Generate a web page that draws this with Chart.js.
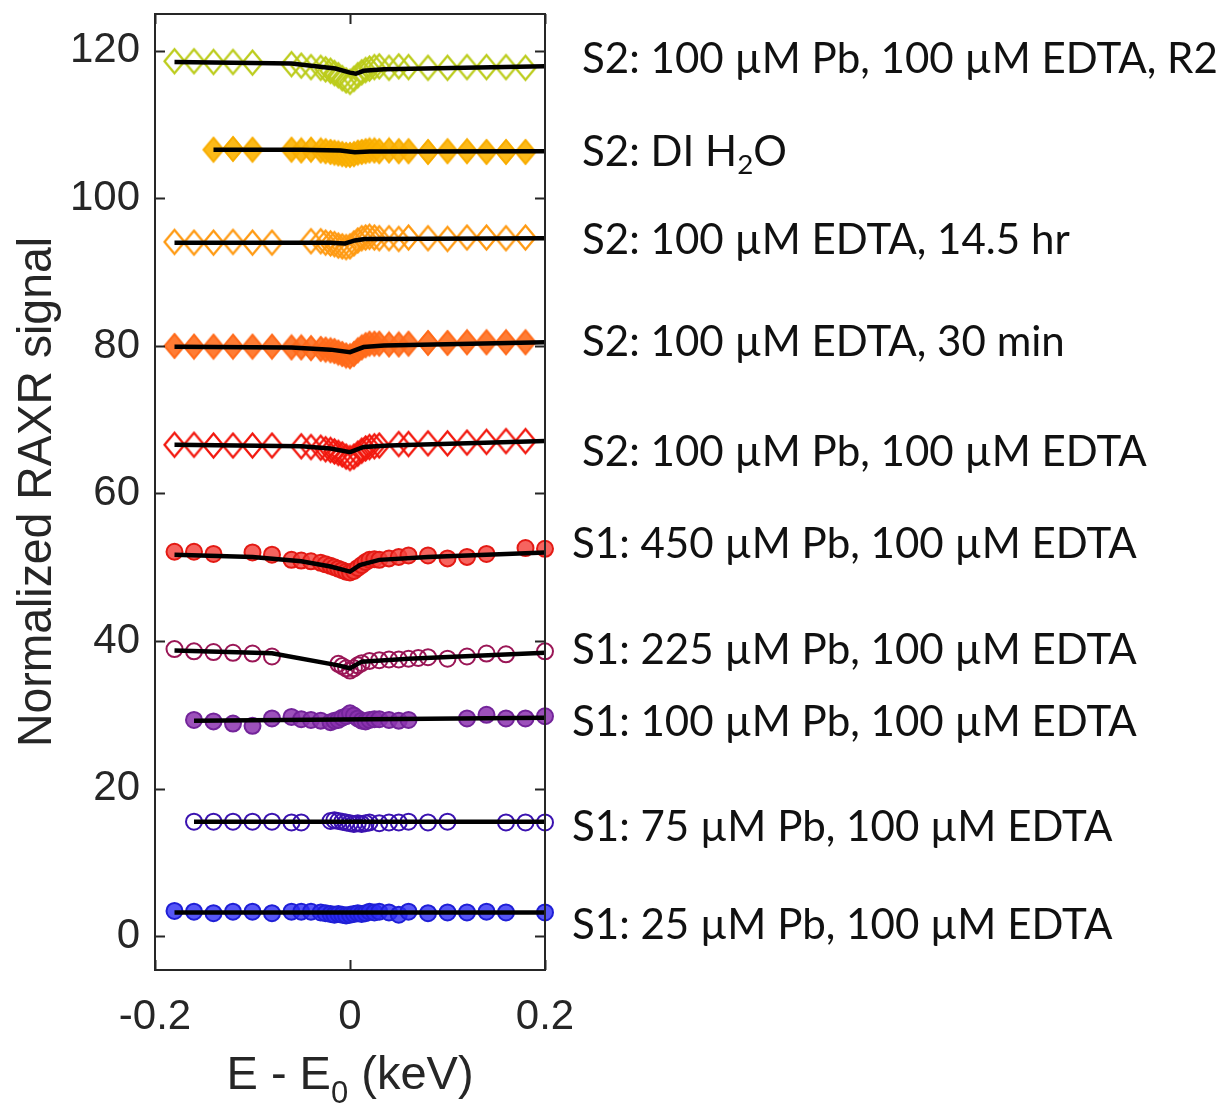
<!DOCTYPE html>
<html>
<head>
<meta charset="utf-8">
<script src="https://cdn.jsdelivr.net/npm/chart.js@4.4.1/dist/chart.umd.min.js"></script>
<style>
  html, body { margin: 0; padding: 0; background: #fff; }
  #wrap { width: 1225px; height: 1106px; position: relative; }
</style>
</head>
<body>
<div id="wrap"><canvas id="raxr" width="1225" height="1106"></canvas></div>
<script>
// axis ticks
const xTicks = [-0.2, 0, 0.2];
const yTicks = [0, 20, 40, 60, 80, 100, 120];

// S2: 100 uM Pb, 100 uM EDTA, R2
const xR2 = [-0.18,-0.16,-0.14,-0.12,-0.10,-0.06,-0.05,-0.04,-0.03,-0.025,-0.02,-0.016,-0.012,-0.008,-0.004,0,0.004,0.008,0.012,0.016,0.02,0.025,0.03,0.04,0.05,0.06,0.08,0.10,0.12,0.14,0.16,0.18];
const yR2 = [118.6,118.6,118.5,118.5,118.4,118.2,118.0,117.8,117.7,117.5,117.3,117.0,116.7,116.3,116.0,115.8,116.2,116.7,117.1,117.4,117.6,117.8,117.9,117.7,117.9,117.8,117.7,117.7,117.8,117.8,117.8,117.7];
const fitXR2 = [-0.18,-0.06,-0.015,0,0.006,0.014,0.035,0.2];
const fitYR2 = [118.5,118.3,117.6,117.05,116.9,117.3,117.5,117.9];

// S2: DI H2O
const xH2O = [-0.14,-0.12,-0.10,-0.06,-0.05,-0.04,-0.03,-0.025,-0.02,-0.016,-0.012,-0.008,-0.004,0,0.004,0.008,0.012,0.016,0.02,0.025,0.03,0.04,0.05,0.06,0.08,0.10,0.12,0.14,0.16,0.18];
const yH2O = [106.6,106.7,106.6,106.6,106.5,106.6,106.5,106.4,106.3,106.2,106.1,106.0,105.9,105.9,106.0,106.2,106.3,106.4,106.5,106.5,106.4,106.5,106.4,106.4,106.3,106.4,106.4,106.3,106.3,106.3];
const fitXH2O = [-0.14,-0.05,-0.01,0.005,0.02,0.2];
const fitYH2O = [106.6,106.6,106.5,106.25,106.35,106.4];

// S2: 100 uM EDTA, 14.5 hr
const x145 = [-0.18,-0.16,-0.14,-0.12,-0.10,-0.08,-0.04,-0.03,-0.025,-0.02,-0.016,-0.012,-0.008,-0.004,0,0.004,0.008,0.012,0.016,0.02,0.025,0.03,0.04,0.05,0.06,0.08,0.10,0.12,0.14,0.16,0.18];
const y145 = [94.1,94.0,94.0,94.1,94.0,94.0,94.2,94.2,94.0,93.9,93.8,93.6,93.5,93.4,93.5,93.9,94.3,94.6,94.7,94.8,94.7,94.6,94.6,94.5,94.7,94.6,94.5,94.7,94.7,94.6,94.7];
const fitX145 = [-0.18,-0.02,-0.005,0.005,0.015,0.2];
const fitY145 = [94.0,94.0,93.9,94.3,94.5,94.6];

// S2: 100 uM EDTA, 30 min
const x30 = [-0.18,-0.16,-0.14,-0.12,-0.10,-0.08,-0.06,-0.05,-0.04,-0.03,-0.025,-0.02,-0.016,-0.012,-0.008,-0.004,0,0.004,0.008,0.012,0.016,0.02,0.025,0.03,0.04,0.05,0.06,0.08,0.10,0.12,0.14,0.16,0.18];
const y30 = [80.0,79.9,79.9,79.9,79.9,79.9,79.8,79.8,79.7,79.6,79.5,79.4,79.3,79.1,78.9,78.7,78.6,78.9,79.4,79.8,80.1,80.3,80.3,80.3,80.2,80.2,80.3,80.4,80.4,80.5,80.5,80.5,80.5];
const fitX30 = [-0.18,-0.06,-0.02,0,0.014,0.035,0.2];
const fitY30 = [79.9,79.8,79.5,79.15,79.85,80.05,80.5];

// S2: 100 uM Pb, 100 uM EDTA
const xS2 = [-0.18,-0.16,-0.14,-0.12,-0.10,-0.08,-0.05,-0.04,-0.03,-0.025,-0.02,-0.016,-0.012,-0.008,-0.004,0,0.004,0.008,0.012,0.016,0.02,0.025,0.03,0.05,0.06,0.08,0.10,0.12,0.14,0.16,0.18];
const yS2 = [66.6,66.6,66.5,66.5,66.5,66.5,66.4,66.3,66.2,66.0,65.9,65.7,65.5,65.3,65.0,64.8,65.0,65.4,65.8,66.1,66.3,66.4,66.5,66.7,66.7,66.8,66.8,66.9,67.0,67.1,67.1];
const fitXS2 = [-0.18,-0.05,-0.02,0,0.014,0.04,0.2];
const fitYS2 = [66.6,66.4,66.1,65.6,66.3,66.5,67.1];

// S1: 450 uM Pb, 100 uM EDTA
const x450 = [-0.18,-0.16,-0.14,-0.10,-0.08,-0.06,-0.05,-0.04,-0.03,-0.025,-0.02,-0.016,-0.012,-0.008,-0.004,0,0.004,0.008,0.012,0.016,0.02,0.025,0.03,0.04,0.05,0.06,0.08,0.10,0.12,0.14,0.18,0.20];
const y450 = [52.1,52.1,51.8,52.0,51.7,51.0,50.9,50.8,50.6,50.4,50.2,50.0,49.8,49.6,49.4,49.3,49.5,49.9,50.3,50.7,51.0,51.1,51.0,51.2,51.4,51.6,51.6,51.2,51.4,51.8,52.6,52.5];
const fitX450 = [-0.18,-0.10,-0.05,-0.02,0,0.01,0.03,0.08,0.2];
const fitY450 = [51.7,51.4,50.8,50.1,49.4,50.3,51.0,51.4,52.0];

// S1: 225 uM Pb, 100 uM EDTA
const x225 = [-0.18,-0.16,-0.14,-0.12,-0.10,-0.08,-0.012,-0.008,-0.004,0,0.004,0.008,0.012,0.02,0.03,0.04,0.05,0.06,0.07,0.08,0.10,0.12,0.14,0.16,0.20];
const y225 = [38.9,38.6,38.5,38.4,38.3,37.9,36.9,36.6,36.3,36.0,36.3,36.7,37.0,37.3,37.4,37.5,37.5,37.6,37.7,37.8,37.6,37.9,38.3,38.2,38.6];
const fitX225 = [-0.18,-0.08,-0.012,0,0.012,0.06,0.2];
const fitY225 = [38.7,38.35,36.7,36.3,37.2,37.6,38.4];

// S1: 100 uM Pb, 100 uM EDTA
const x100 = [-0.16,-0.14,-0.12,-0.10,-0.08,-0.06,-0.05,-0.04,-0.03,-0.02,-0.016,-0.012,-0.008,-0.004,0,0.004,0.008,0.012,0.016,0.02,0.025,0.03,0.04,0.05,0.06,0.12,0.14,0.16,0.18,0.20];
const y100 = [29.3,29.1,28.8,28.5,29.5,29.7,29.4,29.3,29.2,29.0,29.2,29.3,29.6,29.8,30.2,29.9,29.5,29.2,29.1,29.3,29.4,29.4,29.3,29.2,29.3,29.5,30.0,29.5,29.5,29.8];
const fitX100 = [-0.16,0.2];
const fitY100 = [29.2,29.6];

// S1: 75 uM Pb, 100 uM EDTA
const x75 = [-0.16,-0.14,-0.12,-0.10,-0.08,-0.06,-0.05,-0.02,-0.016,-0.012,-0.008,-0.004,0,0.004,0.008,0.012,0.016,0.02,0.03,0.04,0.05,0.06,0.08,0.10,0.16,0.18,0.20];
const y75 = [15.5,15.5,15.5,15.5,15.5,15.4,15.4,15.6,15.7,15.6,15.5,15.4,15.3,15.2,15.3,15.2,15.3,15.4,15.3,15.4,15.4,15.5,15.4,15.5,15.4,15.4,15.4];
const fitX75 = [-0.16,0.2];
const fitY75 = [15.5,15.5];

// S1: 25 uM Pb, 100 uM EDTA
const x25 = [-0.18,-0.16,-0.14,-0.12,-0.10,-0.08,-0.06,-0.05,-0.04,-0.03,-0.025,-0.02,-0.016,-0.012,-0.008,-0.004,0,0.004,0.008,0.012,0.016,0.02,0.025,0.03,0.04,0.05,0.06,0.08,0.10,0.12,0.14,0.16,0.20];
const y25 = [3.4,3.3,3.1,3.3,3.3,3.1,3.3,3.3,3.3,3.2,3.1,3.0,2.9,3.0,2.9,2.8,2.9,3.0,3.1,3.0,3.1,3.3,3.2,3.3,3.2,2.9,3.3,3.1,3.2,3.2,3.3,3.2,3.2];
const fitX25 = [-0.18,0.2];
const fitY25 = [3.2,3.2];

// series labels on the right ({..} = subscript)
const labelTexts = [
  'S2: 100 \u00b5M Pb, 100 \u00b5M EDTA, R2',
  'S2: DI H{2}O',
  'S2: 100 \u00b5M EDTA, 14.5 hr',
  'S2: 100 \u00b5M EDTA, 30 min',
  'S2: 100 \u00b5M Pb, 100 \u00b5M EDTA',
  'S1: 450 \u00b5M Pb, 100 \u00b5M EDTA',
  'S1: 225 \u00b5M Pb, 100 \u00b5M EDTA',
  'S1: 100 \u00b5M Pb, 100 \u00b5M EDTA',
  'S1: 75 \u00b5M Pb, 100 \u00b5M EDTA',
  'S1: 25 \u00b5M Pb, 100 \u00b5M EDTA'
];
const labelY = [118.9, 106.2, 94.3, 80.5, 65.5, 53.1, 38.7, 28.9, 14.7, 1.5];
const labelX = [0.238, 0.238, 0.238, 0.238, 0.238, 0.2277, 0.2277, 0.2277, 0.2277, 0.2277];

const yTitle = 'Normalized RAXR signal';
const xTitle = 'E - E{0} (keV)';

const AXIS_FONT = '"Liberation Sans", Arial, sans-serif';
const LABEL_FONT = 'Lato, "Open Sans", sans-serif';

function pts(xs, ys) {
  return xs.map((x, i) => ({ x: x, y: ys[i] }));
}

// MATLAB-ish diamond marker (a bit taller than wide)
function diamond(stroke, fill, w, h, lw) {
  const c = document.createElement('canvas');
  c.width = Math.ceil(w + lw * 2);
  c.height = Math.ceil(h + lw * 2);
  const g = c.getContext('2d');
  const cx = c.width / 2, cy = c.height / 2;
  g.beginPath();
  g.moveTo(cx, cy - h / 2);
  g.lineTo(cx + w / 2, cy);
  g.lineTo(cx, cy + h / 2);
  g.lineTo(cx - w / 2, cy);
  g.closePath();
  if (fill) { g.fillStyle = fill; g.fill(); }
  g.strokeStyle = stroke;
  g.lineWidth = lw;
  g.stroke();
  return c;
}

function markerSet(xs, ys, style) {
  return Object.assign({
    type: 'scatter',
    data: pts(xs, ys),
    showLine: false,
    clip: false,
    order: 2
  }, style);
}

function fitSet(xs, ys) {
  return {
    type: 'line',
    data: pts(xs, ys),
    borderColor: '#000',
    borderWidth: 4.5,
    pointRadius: 0,
    fill: false,
    tension: 0,
    clip: false,
    order: 1
  };
}

function circle(fill, edge, r) {
  return { pointStyle: 'circle', pointRadius: r, pointBackgroundColor: fill, pointBorderColor: edge, pointBorderWidth: 2 };
}
function img(c) {
  return { pointStyle: c, pointRadius: 11 };
}

const datasets = [
  markerSet(x25, y25, circle('rgba(45,45,245,0.8)', '#1f1fd6', 8)),
  fitSet(fitX25, fitY25),
  markerSet(x75, y75, circle('rgba(255,255,255,0)', '#3a12b0', 8)),
  fitSet(fitX75, fitY75),
  markerSet(x100, y100, circle('rgba(140,50,175,0.85)', '#73249a', 8)),
  fitSet(fitX100, fitY100),
  markerSet(x225, y225, circle('rgba(255,255,255,0)', '#9a1656', 8)),
  fitSet(fitX225, fitY225),
  markerSet(x450, y450, circle('rgba(244,66,60,0.82)', '#e31a14', 8)),
  fitSet(fitX450, fitY450),
  markerSet(xS2, yS2, img(diamond('#f2180e', null, 20, 24, 2.3))),
  fitSet(fitXS2, fitYS2),
  markerSet(x30, y30, img(diamond('#ff6a1a', 'rgba(255,110,30,0.9)', 20, 24, 2))),
  fitSet(fitX30, fitY30),
  markerSet(x145, y145, img(diamond('#ff9a12', null, 20, 24, 2.3))),
  fitSet(fitX145, fitY145),
  markerSet(xH2O, yH2O, img(diamond('#f8ad00', 'rgba(252,178,0,0.9)', 20, 24, 2))),
  fitSet(fitXH2O, fitYH2O),
  markerSet(xR2, yR2, img(diamond('#bccc1c', null, 20, 24, 2.3))),
  fitSet(fitXR2, fitYR2)
];

// draw rich text with {subscript} parts
function drawRich(ctx, str, x, y, size, family, align) {
  const parts = str.split(/(\{[^}]*\})/).filter(p => p.length);
  let total = 0;
  const segs = parts.map(p => {
    const sub = p[0] === '{';
    const t = sub ? p.slice(1, -1) : p;
    const fs = sub ? size * 0.66 : size;
    ctx.font = fs + 'px ' + family;
    const w = ctx.measureText(t).width;
    total += w;
    return { t: t, sub: sub, fs: fs, w: w };
  });
  let cx = align === 'center' ? x - total / 2 : x;
  segs.forEach(s => {
    ctx.font = s.fs + 'px ' + family;
    ctx.fillText(s.t, cx, s.sub ? y + size * 0.3 : y);
    cx += s.w;
  });
  return total;
}

const framePlugin = {
  id: 'frame',
  afterDraw(chart) {
    const ctx = chart.ctx;
    const a = chart.chartArea;
    const xs = chart.scales.x, ys = chart.scales.y;
    ctx.save();
    ctx.strokeStyle = '#262626';
    ctx.lineWidth = 2;
    ctx.strokeRect(a.left, a.top, a.right - a.left, a.bottom - a.top);
    // inward ticks
    ctx.beginPath();
    yTicks.forEach(v => {
      const p = Math.round(ys.getPixelForValue(v)) + 0.5;
      ctx.moveTo(a.left, p); ctx.lineTo(a.left + 10, p);
      ctx.moveTo(a.right, p); ctx.lineTo(a.right - 10, p);
    });
    xTicks.forEach(v => {
      const p = Math.round(xs.getPixelForValue(v)) + 0.5;
      ctx.moveTo(p, a.bottom); ctx.lineTo(p, a.bottom - 10);
      ctx.moveTo(p, a.top); ctx.lineTo(p, a.top + 10);
    });
    ctx.stroke();

    // axis titles
    ctx.fillStyle = '#262626';
    ctx.textBaseline = 'alphabetic';
    ctx.save();
    ctx.translate(51, (a.top + a.bottom) / 2);
    ctx.rotate(-Math.PI / 2);
    ctx.textAlign = 'center';
    ctx.font = '48px ' + AXIS_FONT;
    ctx.fillText(yTitle, 0, 0, 510);
    ctx.restore();
    ctx.textAlign = 'left';
    drawRich(ctx, xTitle, xs.getPixelForValue(0), 1089, 47, AXIS_FONT, 'center');

    // series labels, sized so the first spans the reference width
    ctx.fillStyle = '#111';
    ctx.textBaseline = 'middle';
    ctx.font = '40px ' + LABEL_FONT;
    const size = 40 * 636 / ctx.measureText(labelTexts[0]).width;
    labelTexts.forEach((t, i) => {
      drawRich(ctx, t, xs.getPixelForValue(labelX[i]), ys.getPixelForValue(labelY[i]), size, LABEL_FONT, 'left');
    });
    ctx.restore();
  }
};

function noPad(s) {
  s.paddingTop = 0; s.paddingBottom = 0; s.paddingLeft = 0; s.paddingRight = 0;
}

new Chart(document.getElementById('raxr'), {
  type: 'scatter',
  data: { datasets: datasets },
  options: {
    responsive: false,
    devicePixelRatio: 1,
    animation: false,
    layout: { padding: { left: 0, top: 14, right: 680, bottom: 0 } },
    plugins: { legend: { display: false }, tooltip: { enabled: false } },
    scales: {
      x: {
        type: 'linear',
        min: -0.2,
        max: 0.2,
        afterBuildTicks: s => { s.ticks = xTicks.map(v => ({ value: v })); },
        afterFit: s => { s.height = 136; noPad(s); },
        grid: { display: false, drawTicks: false },
        border: { display: false },
        ticks: {
          font: { family: AXIS_FONT, size: 42 },
          color: '#262626',
          padding: 22,
          maxRotation: 0,
          callback: v => (v === 0 ? '0' : v.toFixed(1))
        }
      },
      y: {
        type: 'linear',
        min: -4.6,
        max: 125,
        afterBuildTicks: s => { s.ticks = yTicks.map(v => ({ value: v })); },
        afterFit: s => { s.width = 155; noPad(s); },
        grid: { display: false, drawTicks: false },
        border: { display: false },
        ticks: {
          font: { family: AXIS_FONT, size: 42 },
          color: '#262626',
          padding: 15,
          callback: v => String(v)
        }
      }
    }
  },
  plugins: [framePlugin]
});
</script>
</body>
</html>
